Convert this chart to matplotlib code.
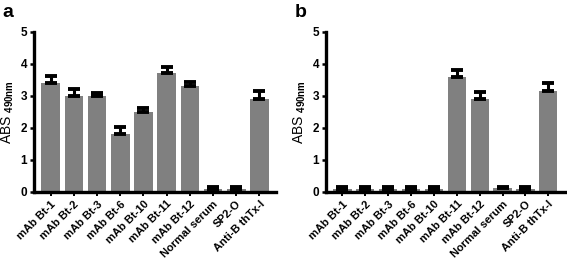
import matplotlib.pyplot as plt

plt.rcParams['font.family'] = ['Liberation Sans', 'DejaVu Sans']
plt.rcParams['font.weight'] = 'bold'
plt.rcParams['mathtext.fontset'] = 'custom'
plt.rcParams['mathtext.bf'] = 'Liberation Sans:bold'
plt.rcParams['mathtext.rm'] = 'Liberation Sans:bold'

labels = ['mAb Bt-1', 'mAb Bt-2', 'mAb Bt-3', 'mAb Bt-6', 'mAb Bt-10',
          'mAb Bt-11', 'mAb Bt-12', 'Normal serum', 'SP2-O', 'Anti-B thTx-I']

# panel a
vals_a = [3.4, 3.0, 3.0, 1.8, 2.5, 3.72, 3.31, 0.1, 0.1, 2.9]
err_a = [0.22, 0.22, 0.1, 0.23, 0.13, 0.18, 0.13, 0.04, 0.04, 0.26]

# panel b
vals_b = [0.1, 0.1, 0.1, 0.1, 0.1, 3.6, 2.9, 0.12, 0.1, 3.16]
err_b = [0.04, 0.04, 0.04, 0.04, 0.04, 0.21, 0.22, 0.04, 0.04, 0.25]

fig = plt.figure(figsize=(5.67, 2.58), dpi=100)
ax_a = fig.add_axes([0.06, 0.256, 0.427, 0.62])
ax_b = fig.add_axes([0.575, 0.256, 0.421, 0.62])

for ax, vals, err, letter in [(ax_a, vals_a, err_a, 'a'), (ax_b, vals_b, err_b, 'b')]:
    x = range(len(labels))
    ax.bar(x, vals, width=0.8, color='#808080', edgecolor='none', zorder=2)
    ax.errorbar(x, vals, yerr=[[0] * len(vals), err], fmt='none', ecolor='black',
                elinewidth=2.2, capsize=4.5, capthick=2.8, zorder=3)
    ax.set_ylim(0, 5)
    ax.set_xlim(-0.72, 9.72)
    ax.set_yticks([0, 1, 2, 3, 4, 5])
    ax.set_xticks(list(x))
    ax.set_xticklabels(labels, rotation=45, ha='right', rotation_mode='anchor', fontsize=8)
    ax.tick_params(axis='y', labelsize=8.5, width=1.8, length=3, pad=2)
    ax.tick_params(axis='x', width=1.4, length=3, pad=2)
    for s in ['top', 'right']:
        ax.spines[s].set_visible(False)
    for s in ['left', 'bottom']:
        ax.spines[s].set_linewidth(2.4)
    ax.set_ylabel(r'ABS $_{\mathbf{490nm}}$', fontsize=10, labelpad=3)
    ax.text(-0.13, 1.175, letter, transform=ax.transAxes, fontsize=14,
            fontweight='heavy', va='top', ha='left')

fig.savefig('out.png', dpi=100)
